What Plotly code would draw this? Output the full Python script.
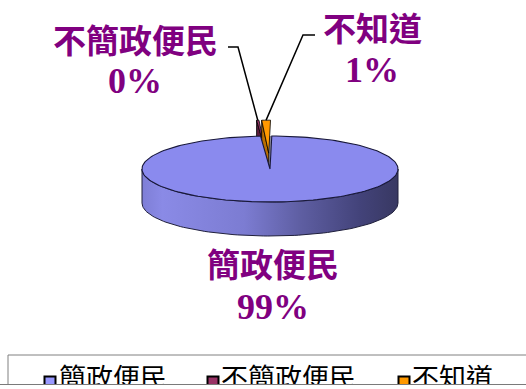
import numpy as np
import plotly.graph_objects as go

# ---- data -------------------------------------------------------------
categories = ["簡政便民", "不簡政便民", "不知道"]
values = [98.6, 0.3, 1.1]
top_colors = ["#8a8aee", "#993366", "#ff9900"]
side_colors = ["#7a7ad0", "#5a1c3a", "#b86e00"]
legend_colors = ["#9999ff", "#993366", "#ff9900"]
exploded = [False, True, True]

# ---- 3-D pie geometry (pixel space) ------------------------------------
CX, CY = 270.0, 169.0      # centre of the top face
RX, RY = 128.0, 33.0       # ellipse radii of the top face
DEPTH = 34.0               # thickness of the disc
EXPLODE = 0.48             # radial offset of pulled-out slices
FIRST_ANGLE = 0.8          # rotation of the first slice, degrees clockwise
LABEL_PURPLE = "#800080"

total = float(sum(values))
shares = [v / total for v in values]
ends = FIRST_ANGLE + np.cumsum([s * 360.0 for s in shares])
starts = np.concatenate([[FIRST_ANGLE], ends[:-1]])


def rim(theta, off=(0.0, 0.0), drop=0.0):
    t = np.radians(theta)
    return CX + off[0] + RX * np.sin(t), CY + off[1] - RY * np.cos(t) + drop


def arc(a0, a1, off=(0.0, 0.0), drop=0.0, n=None):
    n = n or max(4, int(abs(a1 - a0) / 2) + 2)
    th = np.linspace(a0, a1, n)
    x, y = rim(th, off, drop)
    return list(x), list(y)


fig = go.Figure()


def poly(xs, ys, fill=None, line_color="rgba(0,0,0,0)", width=0.0, **kw):
    fig.add_trace(go.Scatter(
        x=xs, y=ys, mode="lines", fill="toself",
        fillcolor=fill, line=dict(color=line_color, width=width),
        hoverinfo="skip", showlegend=False, **kw))


# front wall of the main slice, shaded left to right
wa, wb = max(90.0, starts[0]), min(270.0, ends[0])
tx, ty = arc(wa, wb)
bx, by = arc(wb, wa, drop=DEPTH)
fig.add_trace(go.Scatter(
    x=tx + bx + [tx[0]], y=ty + by + [ty[0]], mode="lines", fill="toself",
    fillgradient=dict(type="horizontal", colorscale=[
        [0.0, "#7e7ed6"], [0.08, "#8a8ae6"], [0.4, "#7c7cd2"],
        [0.62, "#5e5ea2"], [0.85, "#43437a"], [1.0, "#383862"]]),
    line=dict(color="#20203c", width=1), hoverinfo="skip", showlegend=False))

# inner wall visible through the gap left by the pulled-out slices
gx, gy = arc(ends[0], 360.0 + FIRST_ANGLE)
poly([CX] + gx + [CX], [CY] + gy + [CY], fill="#8c8c9c")

# pulled-out small slices: cut face first, then the top face
label_anchor = {}
for i in range(1, len(values)):
    a0, a1 = starts[i], ends[i]
    mid = np.radians((a0 + a1) / 2)
    off = (EXPLODE * RX * np.sin(mid), -EXPLODE * RY * np.cos(mid)) if exploded[i] else (0.0, 0.0)
    tip = (CX + off[0], CY + off[1])
    ex, ey = rim(a0, off)
    poly([tip[0], ex, ex, tip[0], tip[0]],
         [tip[1], ey, ey + DEPTH, tip[1] + DEPTH, tip[1]],
         fill=side_colors[i], line_color="#000000", width=0.8)
    ax_, ay_ = arc(a0, a1, off)
    poly([tip[0]] + ax_ + [tip[0]], [tip[1]] + ay_ + [tip[1]],
         fill=top_colors[i], line_color="#000000", width=0.8)
    label_anchor[i] = rim((a0 + a1) / 2, off)

# top face of the main slice
mx, my = arc(starts[0], ends[0])
poly([CX] + mx + [CX], [CY] + my + [CY], fill=top_colors[0],
     line_color="#18183a", width=1.1)

# leader lines for the two small slices
leader_start = {1: [(228, 47), (238, 47)], 2: [(315, 35), (303, 35)]}
for i, pts in leader_start.items():
    ex, ey = label_anchor[i]
    fig.add_trace(go.Scatter(
        x=[p[0] for p in pts] + [ex], y=[p[1] for p in pts] + [ey],
        mode="lines", line=dict(color="#000000", width=1.5),
        hoverinfo="skip", showlegend=False))

# data labels: name + rounded percentage
label_pos = {0: (273, 263, 307), 1: (135, 39, 81), 2: (372, 27, 70)}
cjk = "Noto Sans CJK TC"
for i, (lx, ny, py) in label_pos.items():
    fig.add_annotation(x=lx, y=ny, text=categories[i], showarrow=False,
                       font=dict(family=cjk, size=33, color=LABEL_PURPLE, weight="bold"))
    fig.add_annotation(x=lx, y=py, text=f"{round(shares[i] * 100):.0f}%", showarrow=False,
                       font=dict(family="Liberation Serif", size=36,
                                 color=LABEL_PURPLE, weight="bold"))

# legend box along the bottom edge
fig.add_shape(type="rect", x0=8, y0=355, x1=540, y1=400,
              line=dict(color="#808080", width=1), fillcolor="rgba(0,0,0,0)")
legend_marker_x = [50, 213, 404]
legend_text_x = [59, 221, 412]
fig.add_trace(go.Scatter(
    x=legend_marker_x, y=[382] * 3, mode="markers",
    marker=dict(symbol="square", size=11, color=legend_colors,
                line=dict(color="#000000", width=2)),
    cliponaxis=True, hoverinfo="skip", showlegend=False))
fig.add_trace(go.Scatter(
    x=legend_text_x, y=[381] * 3, mode="text", text=categories,
    textposition="middle right",
    textfont=dict(family=cjk, size=27, color="#000000"),
    cliponaxis=True, hoverinfo="skip", showlegend=False))

W, H = 526, 389
fig.update_layout(
    width=W, height=H, margin=dict(l=0, r=0, t=0, b=0),
    paper_bgcolor="white", plot_bgcolor="white",
    xaxis=dict(range=[0, W], visible=True, showgrid=False, zeroline=False,
               showticklabels=False, ticks="", showline=True,
               linecolor="#7a7a7a", linewidth=1, fixedrange=True),
    yaxis=dict(range=[384, 0], domain=[5 / H, 1], visible=False,
               showgrid=False, zeroline=False, fixedrange=True),
    showlegend=False,
)

fig.write_html("out.html")
